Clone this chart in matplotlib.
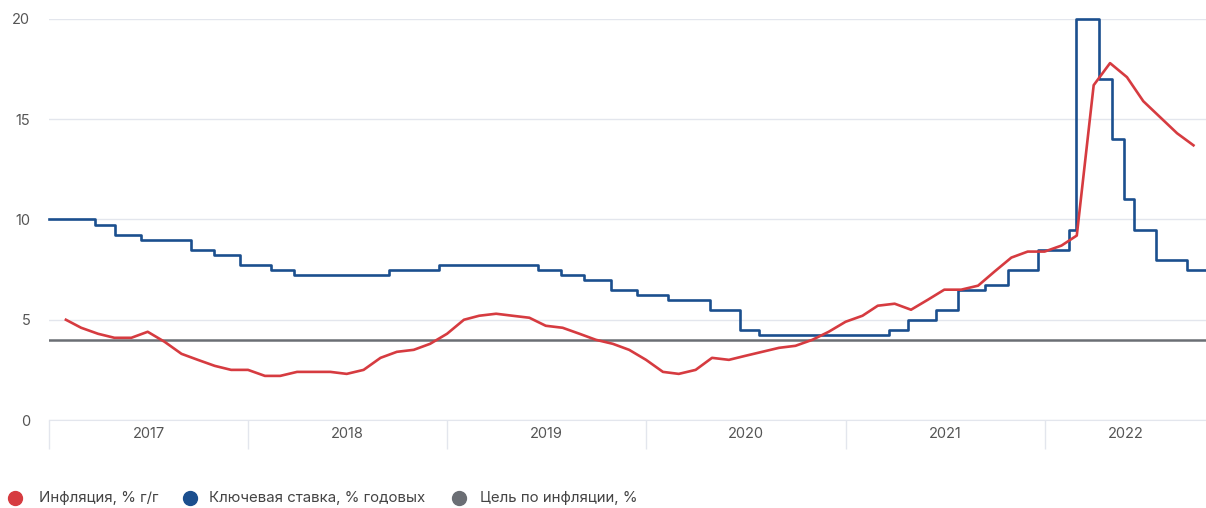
import matplotlib
matplotlib.use("Agg")
import matplotlib.pyplot as plt
from matplotlib.lines import Line2D
import pandas as pd

# --- data ---------------------------------------------------------------------
# CPI inflation, % y/y, monthly (plotted at month end), Jan 2017 .. Sep 2022
INFL_START, INFL_END = "2017-01", "2022-09"
INFLATION = [
    5.0, 4.6, 4.3, 4.1, 4.1, 4.4, 3.9, 3.3, 3.0, 2.7, 2.5, 2.5,   # 2017
    2.2, 2.2, 2.4, 2.4, 2.4, 2.3, 2.5, 3.1, 3.4, 3.5, 3.8, 4.3,   # 2018
    5.0, 5.2, 5.3, 5.2, 5.1, 4.7, 4.6, 4.3, 4.0, 3.8, 3.5, 3.0,   # 2019
    2.4, 2.3, 2.5, 3.1, 3.0, 3.2, 3.4, 3.6, 3.7, 4.0, 4.4, 4.9,   # 2020
    5.2, 5.7, 5.8, 5.5, 6.0, 6.5, 6.5, 6.7, 7.4, 8.1, 8.4, 8.4,   # 2021
    8.7, 9.2, 16.7, 17.8, 17.1, 15.9, 15.1, 14.3, 13.7,           # 2022
]

# key rate, % p.a. — decision dates and new levels
RATE_DATES = [
    "2017-01-01", "2017-03-27", "2017-05-02", "2017-06-19", "2017-09-18",
    "2017-10-30", "2017-12-18", "2018-02-12", "2018-03-26", "2018-09-17",
    "2018-12-17", "2019-06-17", "2019-07-29", "2019-09-09", "2019-10-28",
    "2019-12-16", "2020-02-10", "2020-04-27", "2020-06-22", "2020-07-27",
    "2021-03-22", "2021-04-26", "2021-06-15", "2021-07-26", "2021-09-13",
    "2021-10-25", "2021-12-20", "2022-02-14", "2022-02-28", "2022-04-11",
    "2022-05-04", "2022-05-27", "2022-06-14", "2022-07-25", "2022-09-19",
]
RATE = [
    10.0, 9.75, 9.25, 9.0, 8.5,
    8.25, 7.75, 7.5, 7.25, 7.5,
    7.75, 7.5, 7.25, 7.0, 6.5,
    6.25, 6.0, 5.5, 4.5, 4.25,
    4.5, 5.0, 5.5, 6.5, 6.75,
    7.5, 8.5, 9.5, 20.0, 17.0,
    14.0, 11.0, 9.5, 8.0, 7.5,
]

TARGET = 4.0
YEARS = ["2017", "2018", "2019", "2020", "2021", "2022"]
X_END = "2022-10-24"

LABELS = ["Инфляция, % г/г", "Ключевая ставка, % годовых", "Цель по инфляции, %"]
C_RED, C_BLUE, C_GREY = "#d63b40", "#1b4f8e", "#6b6e74"
C_GRID, C_TEXT = "#e3e6ed", "#555555"

plt.rcParams["font.family"] = ["Inter", "DejaVu Sans"]

# --- plot ---------------------------------------------------------------------
infl_x = pd.period_range(INFL_START, INFL_END, freq="M").to_timestamp(how="end")
rate_x = list(pd.to_datetime(RATE_DATES)) + [pd.Timestamp(X_END)]
rate_y = RATE + [RATE[-1]]
x0, x1 = pd.Timestamp(YEARS[0] + "-01-01"), pd.Timestamp(X_END)

fig = plt.figure(figsize=(12.06, 5.08), dpi=100)
ax = fig.add_axes([49 / 1206, 1 - 420 / 508, 1 - 49 / 1206, 401 / 508])

ax.axhline(TARGET, color=C_GREY, lw=1.8, zorder=2)
ax.plot(rate_x, rate_y, drawstyle="steps-post", color=C_BLUE, lw=1.9, zorder=3,
        clip_on=False)
ax.plot(infl_x, INFLATION, color=C_RED, lw=1.9, zorder=4)

ax.set_xlim(x0, x1)
ax.set_ylim(0, 20)
ax.set_yticks([0, 5, 10, 15, 20])
ax.grid(axis="y", color=C_GRID, lw=1)
ax.tick_params(axis="y", length=0, pad=13.5, labelsize=10.5, labelcolor=C_TEXT)

for s in ["top", "right", "left"]:
    ax.spines[s].set_visible(False)
ax.spines["bottom"].set_color(C_GRID)

# year separators as major ticks, year names centred in each band as minor ticks
bounds = [pd.Timestamp(y + "-01-01") for y in YEARS]
mids = [b + (e - b) / 2 for b, e in zip(bounds, bounds[1:] + [x1])]
ax.set_xticks(bounds)
ax.set_xticklabels([])
ax.set_xticks(mids, minor=True)
ax.set_xticklabels(YEARS, minor=True)
ax.tick_params(axis="x", which="major", length=21, width=1, color=C_GRID)
ax.tick_params(axis="x", which="minor", length=0, pad=5, labelsize=10.5,
               labelcolor=C_TEXT)

# legend along the bottom
leg = [(15, 39, C_RED), (190, 209, C_BLUE), (459, 480, C_GREY)]
for (mx, tx, c), lab in zip(leg, LABELS):
    fig.add_artist(Line2D([mx / 1206], [1 - 498 / 508], marker="o", ms=10,
                          color=c, transform=fig.transFigure))
    fig.text(tx / 1206, 1 - 498 / 508, lab, fontsize=10.8, color="#444444",
             va="center", ha="left")

fig.savefig("out.png", dpi=100)
